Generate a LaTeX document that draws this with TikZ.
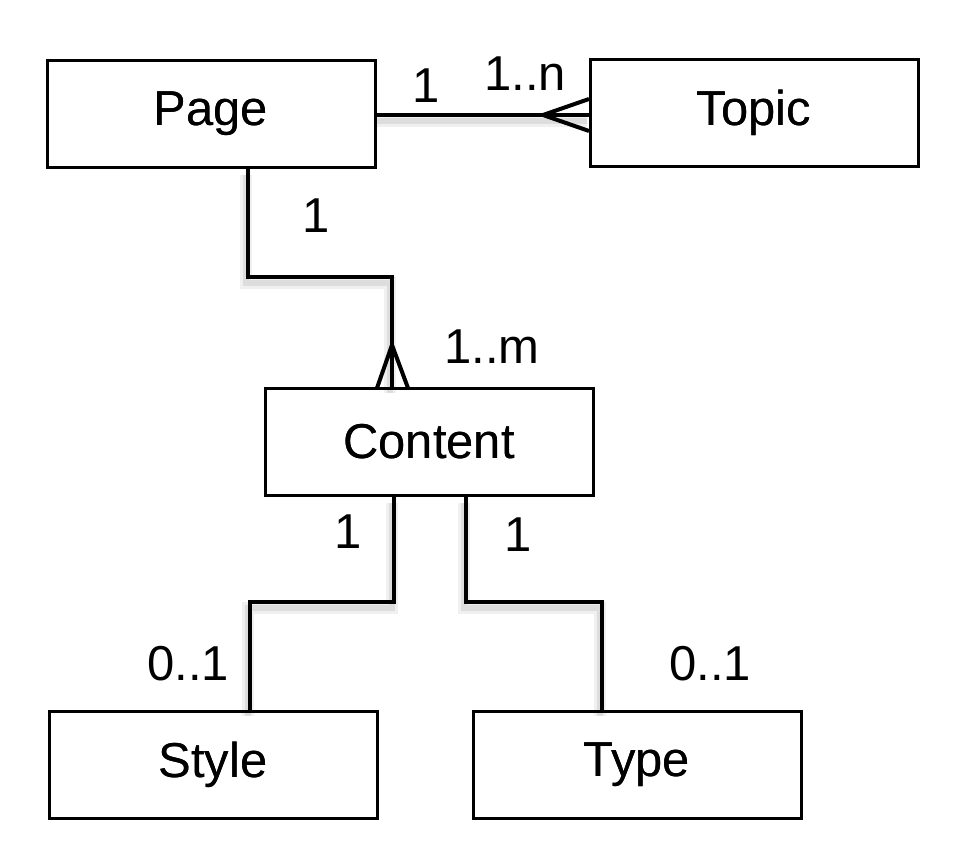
\documentclass[tikz,border=0pt]{standalone}
\usepackage{fontspec}
\setmainfont{Liberation Sans}
\newcommand{\boxtxt}[1]{\raisebox{-4pt}{#1}}
\begin{document}
\begin{tikzpicture}[x=1pt,y=-1pt,
  entity/.style={draw=black, line width=3pt, minimum width=328pt, minimum height=107pt, inner sep=0pt, font=\fontsize{49}{53}\selectfont},
  lbl/.style={inner sep=0pt, font=\fontsize{49}{53}\selectfont},
  conn/.style={draw=black, line width=4pt, line join=miter,
    preaction={draw=black, opacity=0.06, line width=12pt, transform canvas={xshift=-2pt,yshift=-6pt}},
    preaction={draw=black, opacity=0.08, line width=6pt, transform canvas={xshift=-2pt,yshift=-6pt}}},
  crow/.style={draw=black, line width=4pt}]
\useasboundingbox (0,0) rectangle (966,866);
\fill[white] (0,0) rectangle (966,866);

\node[entity] (page) at (211,114) {\boxtxt{Page}};
\node[entity] (topic) at (754,113) {\boxtxt{Topic}};
\node[entity] (content) at (429,441.5) {\boxtxt{Content}};
\node[entity] (style) at (213,765) {\boxtxt{Style}};
\node[entity] (type) at (637,765) {\boxtxt{Type}};

% Page -- Topic
\coordinate (pt1) at (543,115);
\path[conn] (page.east |- pt1) -- (topic.west |- pt1);
\draw[crow] (pt1) -- (589,99);
\draw[crow] (pt1) -- (589,131);

% Page -- Content
\coordinate (pc1) at (248,277);
\coordinate (pc2) at (392,277);
\coordinate (pc3) at (392,345);
\path[conn] (page.south -| pc1) -- (pc1) -- (pc2) -- (content.north -| pc2);
\draw[crow] (pc3) -- (377,388);
\draw[crow] (pc3) -- (408,388);

% Content -- Style
\coordinate (cs1) at (394,602);
\coordinate (cs2) at (250,602);
\path[conn] (content.south -| cs1) -- (cs1) -- (cs2) -- (style.north -| cs2);

% Content -- Type
\coordinate (ct1) at (466,602);
\coordinate (ct2) at (602,602);
\path[conn] (content.south -| ct1) -- (ct1) -- (ct2) -- (type.north -| ct2);

% redraw boxes on top
\node[entity] at (page) {\boxtxt{Page}};
\node[entity] at (topic) {\boxtxt{Topic}};
\node[entity] at (content) {\boxtxt{Content}};
\node[entity] at (style) {\boxtxt{Style}};
\node[entity] at (type) {\boxtxt{Type}};

% labels
\node[lbl] (l1) at (426,86) {1};
\node[lbl] (l2) at (525,74) {1..n};
\node[lbl] (l3) at (316,216) {1};
\node[lbl] (l4) at (492,347) {1..m};
\node[lbl] (l5) at (348,532) {1};
\node[lbl] (l6) at (518,535) {1};
\node[lbl] (l7) at (188,664) {0..1};
\node[lbl] (l8) at (710,664) {0..1};
\end{tikzpicture}
\end{document}
